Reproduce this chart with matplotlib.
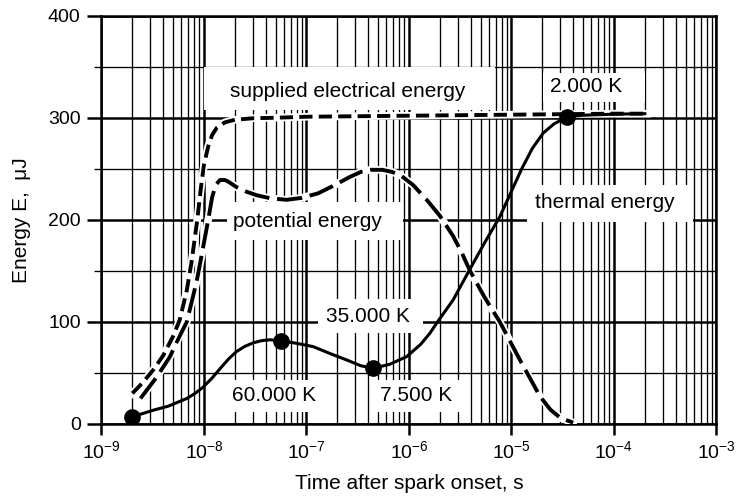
import matplotlib
matplotlib.use('Agg')
import matplotlib.pyplot as plt
from matplotlib.patches import Rectangle
from matplotlib.ticker import FixedLocator, MultipleLocator, NullFormatter, LogFormatterSciNotation
import numpy as np

plt.rcParams['font.family'] = ['Liberation Sans', 'DejaVu Sans']
plt.rcParams['mathtext.fontset'] = 'custom'
plt.rcParams['mathtext.rm'] = 'Liberation Sans'
plt.rcParams['mathtext.it'] = 'Liberation Sans:italic'
plt.rcParams['mathtext.default'] = 'regular'

# supplied electrical energy (uJ) vs time (s)
t_supplied = [2.0e-9, 2.5e-9, 3.2e-9, 4.0e-9, 5.0e-9, 5.8e-9, 6.8e-9, 7.6e-9, 8.6e-9,
              9.3e-9, 1.0e-8, 1.1e-8, 1.2e-8, 1.33e-8, 1.6e-8, 2.0e-8, 3.0e-8,
              5.0e-8, 1.0e-7, 1.0e-6, 1.0e-5, 1.0e-4, 2.1e-4]
e_supplied = [30, 40, 53, 67, 86, 102, 131, 160, 200,
              230, 254, 272, 283, 290, 295.5, 298, 299.5,
              300, 301, 302, 303, 304, 304]

# potential energy
t_potential = [2.4e-9, 3.46e-9, 4.66e-9, 5.4e-9, 6.8e-9, 8.5e-9, 9.6e-9, 1.1e-8, 1.2e-8,
               1.3e-8, 1.43e-8, 1.6e-8, 1.72e-8, 2.08e-8, 2.6e-8, 3.3e-8, 4.5e-8,
               6.4e-8, 9.0e-8, 1.3e-7, 1.8e-7, 2.65e-7, 3.4e-7, 4.2e-7, 5.5e-7,
               6.8e-7, 8.2e-7, 1.1e-6, 1.49e-6, 2.0e-6, 2.7e-6, 3.3e-6, 3.9e-6,
               5.4e-6, 7.7e-6, 1.21e-5, 1.9e-5, 2.4e-5, 3.0e-5, 4.0e-5]
e_potential = [25, 46, 66, 80, 100, 140, 168, 200, 222,
               234, 239, 239, 237.5, 232, 227.5, 224, 221,
               219.6, 221.5, 226, 233, 242, 247, 249, 249,
               247, 244, 234, 219.6, 204, 184, 167, 151,
               125, 100, 62.7, 27, 14, 6, 1.3]

# thermal energy
t_thermal = [2.0e-9, 3.2e-9, 4.5e-9, 6.8e-9, 8.2e-9, 9.8e-9, 1.2e-8, 1.43e-8, 1.75e-8,
             2.08e-8, 2.5e-8, 3.03e-8, 3.6e-8, 4.4e-8, 5.7e-8, 8.0e-8, 1.16e-7,
             1.7e-7, 2.47e-7, 3.4e-7, 4.5e-7, 6.5e-7, 9.5e-7, 1.3e-6, 1.6e-6,
             1.93e-6, 2.7e-6, 3.9e-6, 5.5e-6, 7.7e-6, 1.0e-5, 1.26e-5, 1.6e-5,
             2.04e-5, 2.6e-5, 3.5e-5, 5.0e-5, 1.0e-4, 2.0e-4]
e_thermal = [7, 13.5, 17.5, 25, 30, 36, 45, 54, 64,
             71, 76, 79.5, 81.5, 82.5, 81.5, 79, 75.8,
             69, 62.7, 57, 54.6, 58.5, 66, 78, 88.9,
             101, 121.6, 151, 178, 203, 228, 250, 270,
             285, 294, 301, 302.5, 303.5, 304]

# temperature points on the thermal curve
t_marks = [2.0e-9, 5.7e-8, 4.5e-7, 3.5e-5]
e_marks = [7, 81.5, 54.6, 301]

decades = [1e-9, 1e-8, 1e-7, 1e-6, 1e-5, 1e-4, 1e-3]

fig = plt.figure(figsize=(7.38, 4.96), dpi=100)
ax = fig.add_axes([0.1375, 0.1452, 0.8333, 0.8232])
ax.set_xscale('log')
ax.set_xlim(1e-9, 1e-3)
ax.set_ylim(0, 400)

ax.set_axisbelow(True)
minor_x = [m * d for d in decades[:-1] for m in range(2, 10)]
ax.xaxis.set_major_locator(FixedLocator(decades))
ax.xaxis.set_major_formatter(LogFormatterSciNotation())
ax.xaxis.set_minor_locator(FixedLocator(minor_x))
ax.xaxis.set_minor_formatter(NullFormatter())
ax.yaxis.set_major_locator(MultipleLocator(100))
ax.yaxis.set_minor_locator(MultipleLocator(50))
ax.grid(which='major', color='black', lw=1.8)
ax.grid(which='minor', color='black', lw=0.95)
ax.tick_params(axis='x', which='major', direction='out', length=8, width=1.8, labelsize=14, pad=4)
ax.tick_params(axis='x', which='minor', length=0)
ax.tick_params(axis='y', which='major', direction='out', length=10, width=1.8, labelsize=14, pad=5)
ax.tick_params(axis='y', which='minor', direction='out', length=5, width=0.95)
for sp in ax.spines.values():
    sp.set_linewidth(1.8)

# label boxes: (x0, x1, y0, y1), text x, text y, text
labels = [
    ((1.0e-8, 6.9e-6, 308, 350), 1.8e-8, 325.5, 'supplied electrical energy'),
    ((1.68e-8, 8.7e-7, 180, 217), 1.92e-8, 198, 'potential energy'),
    ((1.42e-5, 5.9e-4, 198, 234), 1.69e-5, 216.5, 'thermal energy'),
    ((2.03e-5, 1.99e-4, 315, 344), 2.38e-5, 331, '2.000 K'),
    ((1.3e-7, 1.37e-6, 89, 122), 1.55e-7, 105, '35.000 K'),
    ((1.6e-8, 1.51e-7, 12, 43), 1.87e-8, 27.5, '60.000 K'),
    ((4.35e-7, 3.36e-6, 12, 43), 5.2e-7, 27.5, '7.500 K'),
]
for (x0, x1, y0, y1), tx, ty, s in labels:
    ax.add_patch(Rectangle((x0, y0), x1 - x0, y1 - y0, facecolor='white',
                           edgecolor='none', zorder=2))
    ax.text(tx, ty, s, ha='left', va='center', fontsize=15, zorder=5)

ax.plot(t_potential, e_potential, color='white', lw=5.5, zorder=3)
ax.plot(t_potential, e_potential, color='black', lw=2.8, dashes=(6.5, 2),
        dash_capstyle='butt', zorder=3.1)
ax.plot(t_supplied, e_supplied, color='white', lw=5.5, zorder=3.2)
ax.plot(t_supplied, e_supplied, color='black', lw=2.8, dashes=(3.4, 1.6),
        dash_capstyle='butt', zorder=3.3)
ax.plot(t_thermal, e_thermal, color='black', lw=2.2, zorder=3.4)
ax.plot(t_marks, e_marks, 'o', color='black', ms=11, zorder=4)

ax.set_xlabel('Time after spark onset, s', fontsize=15, labelpad=8)
ax.set_ylabel('Energy E,  \u03bcJ', fontsize=15, labelpad=12)

fig.savefig('out.png', dpi=100)
